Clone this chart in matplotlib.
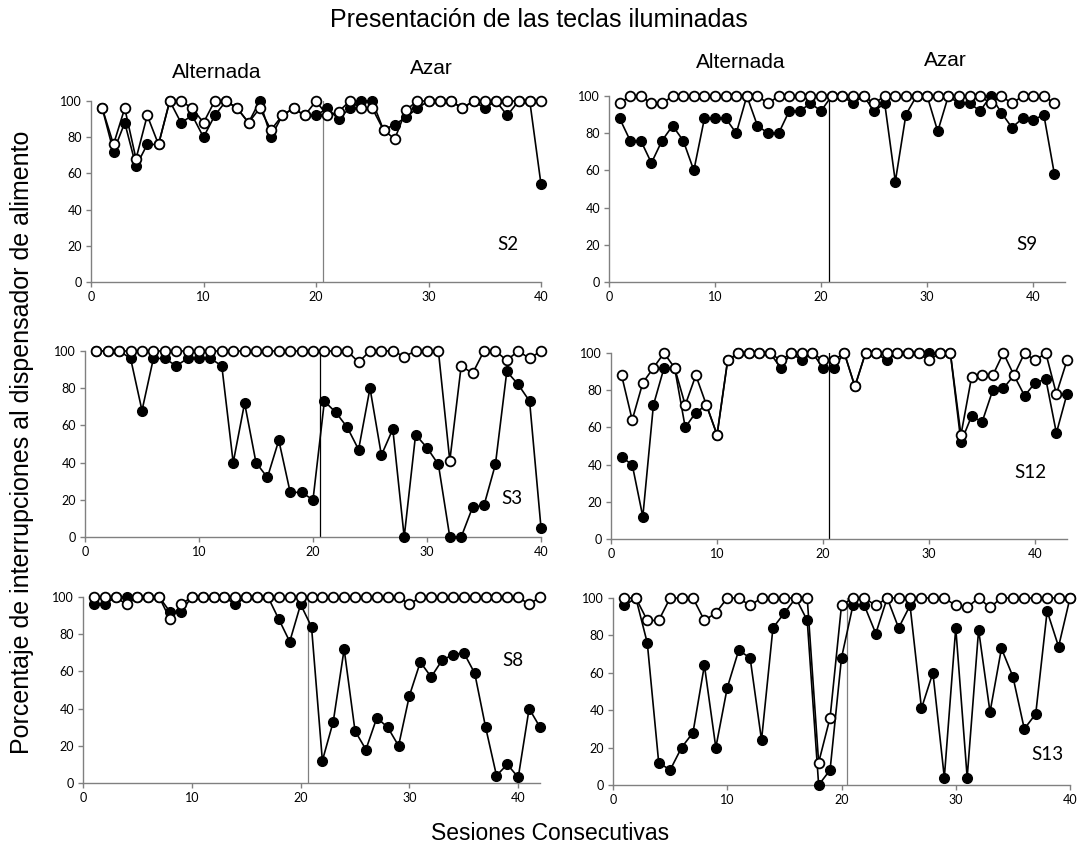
import matplotlib
matplotlib.use("Agg")
import matplotlib.pyplot as plt
import numpy as np

# ---------------- data ----------------
subjects = ["S2", "S9", "S3", "S12", "S8", "S13"]

s2_open = [96, 76, 96, 68, 92, 76, 100, 100, 96, 88, 100, 100, 96, 88, 96, 84, 92, 96, 92, 100,
           92, 94, 100, 96, 96, 84, 79, 95, 100, 100, 100, 100, 96, 100, 100, 100, 100, 100, 100, 100]
s2_filled = [96, 72, 88, 64, 76, 76, 100, 88, 92, 80, 92, 100, 96, 88, 100, 80, 92, 96, 92, 92,
             96, 90, 96, 100, 100, 84, 87, 91, 96, 100, 100, 100, 96, 100, 96, 100, 92, 100, 100, 54]

s9_open = [96, 100, 100, 96, 96, 100, 100, 100, 100, 100, 100, 100, 100, 100, 96, 100, 100, 100, 100, 100,
           100, 100, 100, 100, 96, 100, 100, 100, 100, 100, 100, 100, 100, 100, 100, 96, 100, 96, 100, 100,
           100, 96]
s9_filled = [88, 76, 76, 64, 76, 84, 76, 60, 88, 88, 88, 80, 100, 84, 80, 80, 92, 92, 96, 92,
             100, 100, 96, 100, 92, 96, 54, 90, 100, 100, 81, 100, 96, 96, 92, 100, 91, 83, 88, 87,
             90, 58]

s3_open = [100, 100, 100, 100, 100, 100, 100, 100, 100, 100, 100, 100, 100, 100, 100, 100, 100, 100, 100, 100,
           100, 100, 100, 94, 100, 100, 100, 97, 100, 100, 100, 41, 92, 88, 100, 100, 95, 100, 96, 100]
s3_filled = [100, 100, 100, 96, 68, 96, 96, 92, 96, 96, 96, 92, 40, 72, 40, 32, 52, 24, 24, 20,
             73, 67, 59, 47, 80, 44, 58, 0, 55, 48, 39, 0, 0, 16, 17, 39, 89, 82, 73, 5]

s12_open = [88, 64, 84, 92, 100, 92, 72, 88, 72, 56, 96, 100, 100, 100, 100, 96, 100, 100, 100, 96,
            96, 100, 82, 100, 100, 100, 100, 100, 100, 96, 100, 100, 56, 87, 88, 88, 100, 88, 100, 96,
            100, 78, 96]
s12_filled = [44, 40, 12, 72, 92, 92, 60, 68, 72, 56, 96, 100, 100, 100, 100, 92, 100, 96, 100, 92,
              92, 100, 82, 100, 100, 96, 100, 100, 100, 100, 100, 100, 52, 66, 63, 80, 81, 88, 77, 84,
              86, 57, 78]

s8_open = [100, 100, 100, 96, 100, 100, 100, 88, 96, 100, 100, 100, 100, 100, 100, 100, 100, 100, 100, 100,
           100, 100, 100, 100, 100, 100, 100, 100, 100, 96, 100, 100, 100, 100, 100, 100, 100, 100, 100, 100,
           96, 100]
s8_filled = [96, 96, 100, 100, 100, 100, 100, 92, 92, 100, 100, 100, 100, 96, 100, 100, 100, 88, 76, 96,
             84, 12, 33, 72, 28, 18, 35, 30, 20, 47, 65, 57, 66, 69, 70, 59, 30, 4, 10, 3,
             40, 30]

s13_open = [100, 100, 88, 88, 100, 100, 100, 88, 92, 100, 100, 96, 100, 100, 100, 100, 100, 12, 36, 96,
            100, 100, 96, 100, 100, 100, 100, 100, 100, 96, 95, 100, 95, 100, 100, 100, 100, 100, 100, 100]
s13_filled = [96, 100, 76, 12, 8, 20, 28, 64, 20, 52, 72, 68, 24, 84, 92, 100, 88, 0, 8, 68,
              96, 96, 81, 100, 84, 96, 41, 60, 4, 84, 4, 83, 39, 73, 58, 30, 38, 93, 74, 100]

phase_change = [20.6, 20.7, 20.6, 20.6, 20.7, 20.5]
x_max = [40, 43, 40, 43, 42, 40]
y_ticks = [0, 20, 40, 60, 80, 100]
x_ticks = [0, 10, 20, 30, 40]

open_series = [s2_open, s9_open, s3_open, s12_open, s8_open, s13_open]
filled_series = [s2_filled, s9_filled, s3_filled, s12_filled, s8_filled, s13_filled]

title = "Presentación de las teclas iluminadas"
phase_labels = ["Alternada", "Azar"]
ylabel = "Porcentaje de interrupciones al dispensador de alimento"
xlabel = "Sesiones Consecutivas"

# ---------------- layout (pixel boxes: left, right, top, bottom) ----------------
W, H = 1078, 852
boxes = [(91, 541, 101, 282), (609, 1065, 96, 282),
         (85, 541, 351, 537), (611, 1067, 353, 539),
         (83, 540, 597, 783), (613, 1070, 598, 785)]
label_pos = [(508, 245), (1027, 245), (512, 498), (1030, 472), (513, 660), (1047, 754)]
vline_colors = ["#808080", "black", "black", "black", "#808080", "#808080"]

fig = plt.figure(figsize=(W / 100, H / 100), dpi=100)
tick_font = "Lato"
text_font = "Liberation Sans"

for i, name in enumerate(subjects):
    l, r, t, b = boxes[i]
    ax = fig.add_axes([l / W, 1 - b / H, (r - l) / W, (b - t) / H])
    yo = open_series[i]
    yf = filled_series[i]
    xs = np.arange(1, len(yo) + 1)
    ax.plot(xs, yf, color="black", lw=1.2, marker="o", ms=7.0, mfc="black", mec="black",
            mew=1.0, clip_on=False, zorder=3)
    ax.plot(xs, yo, color="black", lw=1.2, marker="o", ms=7.0, mfc="white", mec="black",
            mew=1.3, clip_on=False, zorder=4)
    ax.axvline(phase_change[i], color=vline_colors[i], lw=0.9, zorder=2)
    ax.set_xlim(0, x_max[i])
    ax.set_ylim(0, 100)
    ax.set_xticks(x_ticks)
    ax.set_yticks(y_ticks)
    for s in ["top", "right"]:
        ax.spines[s].set_visible(False)
    for s in ["left", "bottom"]:
        ax.spines[s].set_color("#808080")
        ax.spines[s].set_linewidth(1.0)
    ax.tick_params(direction="out", length=3.5, width=1, color="#808080",
                   labelsize=9, pad=3)
    for lab in ax.get_xticklabels() + ax.get_yticklabels():
        lab.set_fontfamily(tick_font)
    ax.patch.set_alpha(0)
    lx, ly = label_pos[i]
    fig.text(lx / W, 1 - ly / H, name, ha="center", va="center", fontsize=13.5,
             family=tick_font)

fig.text(539 / W, 1 - 20 / H, title, ha="center", va="center", fontsize=18, family=text_font)
fig.text(217 / W, 1 - 73 / H, phase_labels[0], ha="center", va="center", fontsize=15, family=text_font)
fig.text(431 / W, 1 - 68 / H, phase_labels[1], ha="center", va="center", fontsize=15, family=text_font)
fig.text(741 / W, 1 - 62 / H, phase_labels[0], ha="center", va="center", fontsize=15, family=text_font)
fig.text(945 / W, 1 - 60 / H, phase_labels[1], ha="center", va="center", fontsize=15, family=text_font)
fig.text(22 / W, 1 - 442 / H, ylabel, ha="center", va="center", rotation=90, fontsize=18, family=text_font)
fig.text(550 / W, 1 - 833 / H, xlabel, ha="center", va="center", fontsize=16.5, family=text_font)

fig.savefig("out.png", dpi=100, facecolor="white")
